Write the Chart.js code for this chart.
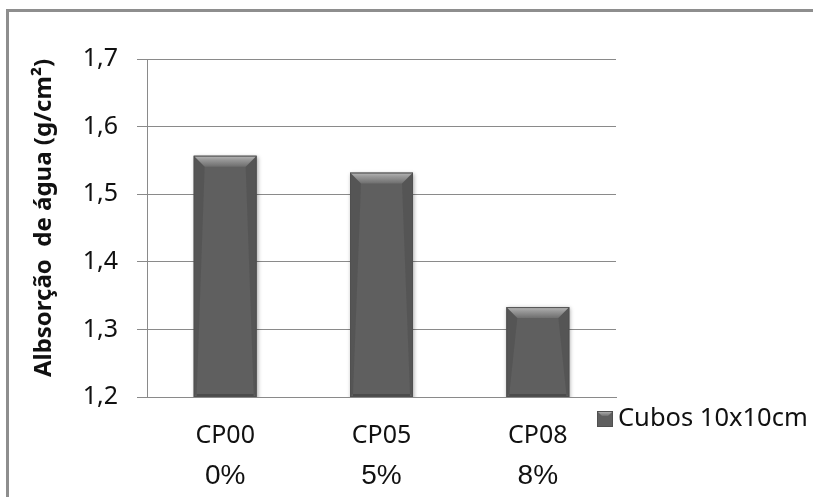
<!DOCTYPE html>
<html>
<head>
<meta charset="utf-8">
<script src="https://cdn.jsdelivr.net/npm/chart.js@4/dist/chart.umd.min.js"></script>
<style>
  html, body { margin: 0; padding: 0; background: #fff; }
  #wrap { position: relative; width: 813px; height: 497px; }
  #frame {
    position: absolute; left: 6px; top: 9px; right: 0; bottom: 0;
    border-left: 3px solid #8e8e8e; border-top: 3px solid #8e8e8e;
    pointer-events: none;
  }
  canvas { position: absolute; left: 0; top: 0; }
</style>
</head>
<body>
<div id="wrap">
  <canvas id="chart" width="813" height="497"></canvas>
  <div id="frame"></div>
</div>
<script>
// Specimens and their residue content
const categories = ['CP00', 'CP05', 'CP08'];
const percentLabels = ['0%', '5%', '8%'];
const seriesName = 'Cubos 10x10cm';
const absorption = [1.557, 1.532, 1.333];
const yTicks = [1.2, 1.3, 1.4, 1.5, 1.6, 1.7];
const yTitle = 'Albsorção  de água (g/cm²)';

const FONT = '"Noto Sans", "Open Sans", sans-serif';
const BAR = '#5f5f5f';

// Soft drop shadow under the bars
const barShadow = {
  id: 'barShadow',
  beforeDatasetsDraw(chart) {
    const ctx = chart.ctx;
    ctx.save();
    ctx.shadowColor = 'rgba(0,0,0,0.35)';
    ctx.shadowBlur = 4;
    ctx.shadowOffsetX = 1;
    ctx.shadowOffsetY = 1;
  },
  afterDatasetsDraw(chart) {
    chart.ctx.restore();
  }
};

// Bevelled look on each bar: light top band, darker sides and bottom edge
const bevelBars = {
  id: 'bevelBars',
  afterDatasetsDraw(chart) {
    const ctx = chart.ctx;
    const area = chart.chartArea;
    chart.getDatasetMeta(0).data.forEach(bar => {
      const l = bar.x - bar.width / 2, r = bar.x + bar.width / 2;
      const t = bar.y, b = Math.min(bar.base, area.bottom);
      const d = 11;
      ctx.save();
      // top band
      let g = ctx.createLinearGradient(0, t, 0, t + d);
      g.addColorStop(0, '#b8b8b8');
      g.addColorStop(0.35, '#9a9a9a');
      g.addColorStop(1, '#6e6e6e');
      ctx.fillStyle = g;
      ctx.beginPath();
      ctx.moveTo(l, t); ctx.lineTo(r, t); ctx.lineTo(r - d, t + d); ctx.lineTo(l + d, t + d);
      ctx.closePath(); ctx.fill();
      // side bands
      ctx.fillStyle = 'rgba(40,40,40,0.16)';
      ctx.beginPath();
      ctx.moveTo(l, t); ctx.lineTo(l + d, t + d); ctx.lineTo(l + 3, b - 3); ctx.lineTo(l, b);
      ctx.closePath(); ctx.fill();
      ctx.beginPath();
      ctx.moveTo(r, t); ctx.lineTo(r - d, t + d); ctx.lineTo(r - 3, b - 3); ctx.lineTo(r, b);
      ctx.closePath(); ctx.fill();
      // bottom band
      ctx.fillStyle = 'rgba(30,30,30,0.3)';
      ctx.fillRect(l + 3, b - 3, bar.width - 6, 3);
      // outline
      ctx.strokeStyle = '#505050';
      ctx.lineWidth = 1;
      ctx.strokeRect(l + 0.5, t + 0.5, bar.width - 1, b - t - 1);
      ctx.restore();
    });
  }
};

// Rotated value-axis title
const axisTitle = {
  id: 'axisTitle',
  afterDraw(chart) {
    const ctx = chart.ctx;
    ctx.save();
    ctx.translate(44, 218);
    ctx.rotate(-Math.PI / 2);
    ctx.fillStyle = '#111';
    ctx.font = 'bold 24px ' + FONT;
    ctx.textAlign = 'center';
    ctx.textBaseline = 'middle';
    ctx.fillText(yTitle, 0, 0);
    ctx.restore();
  }
};

// Legend entry drawn to the right of the plot
const sideLegend = {
  id: 'sideLegend',
  afterDraw(chart) {
    const ctx = chart.ctx;
    const x = chart.chartArea.right - 19, y = 411, s = 16;
    ctx.save();
    ctx.fillStyle = BAR;
    ctx.fillRect(x, y, s, s);
    let g = ctx.createLinearGradient(0, y, 0, y + 5);
    g.addColorStop(0, '#b8b8b8'); g.addColorStop(1, '#707070');
    ctx.fillStyle = g;
    ctx.beginPath();
    ctx.moveTo(x, y); ctx.lineTo(x + s, y); ctx.lineTo(x + s - 5, y + 5); ctx.lineTo(x + 5, y + 5);
    ctx.closePath(); ctx.fill();
    ctx.strokeStyle = '#505050';
    ctx.strokeRect(x + 0.5, y + 0.5, s - 1, s - 1);
    ctx.fillStyle = '#111';
    ctx.font = '25.5px ' + FONT;
    ctx.textBaseline = 'middle';
    ctx.textAlign = 'left';
    ctx.fillText(chart.data.datasets[0].label, x + s + 5, y + s / 2);
    ctx.restore();
  }
};

new Chart(document.getElementById('chart'), {
  type: 'bar',
  data: {
    labels: categories,
    datasets: [{
      label: seriesName,
      data: absorption,
      backgroundColor: BAR,
      borderWidth: 0,
      categoryPercentage: 1.0,
      barPercentage: 0.403
    }]
  },
  options: {
    responsive: false,
    animation: false,
    devicePixelRatio: 1,
    layout: { padding: { left: 30, top: 59, right: 197, bottom: 0 } },
    plugins: { legend: { display: false }, tooltip: { enabled: false } },
    scales: {
      y: {
        min: 1.2, max: 1.7,
        afterBuildTicks: s => { s.ticks = yTicks.map(v => ({ value: v })); },
        afterFit: s => { s.width = 117; },
        ticks: {
          color: '#111',
          font: { family: FONT, size: 25 },
          padding: 19,
          callback: v => v.toFixed(1).replace('.', ',')
        },
        grid: { color: '#8a8a8a', lineWidth: 1, tickLength: 10, drawTicks: true },
        border: { color: '#8a8a8a', width: 1 }
      },
      x: {
        position: 'bottom',
        afterFit: s => { s.height = 58; },
        ticks: { color: '#111', font: { family: FONT, size: 25 }, padding: 24 },
        grid: { display: false, drawTicks: false },
        border: { color: '#8a8a8a', width: 1 }
      },
      x2: {
        type: 'category',
        position: 'bottom',
        labels: percentLabels,
        afterFit: s => { s.height = 42; },
        ticks: { color: '#111', font: { family: '"Liberation Sans", Arial, sans-serif', size: 28 }, padding: 4 },
        grid: { display: false, drawTicks: false },
        border: { display: false }
      }
    }
  },
  plugins: [barShadow, bevelBars, axisTitle, sideLegend]
});
</script>
</body>
</html>
